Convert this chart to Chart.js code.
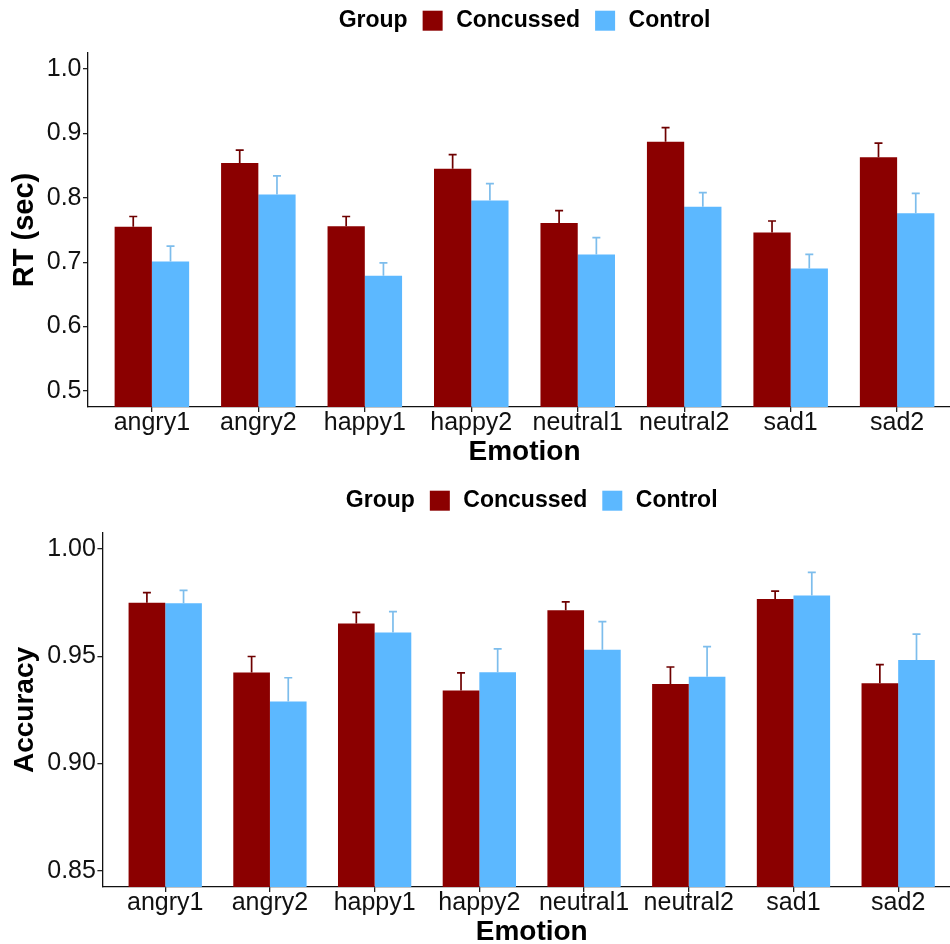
<!DOCTYPE html>
<html>
<head>
<meta charset="utf-8">
<script src="https://cdn.jsdelivr.net/npm/chart.js@4.4.1/dist/chart.umd.min.js"></script>
<style>
  html, body { margin: 0; padding: 0; background: #fff; overflow: hidden; width: 950px; height: 944px; }
  canvas { display: block; }
</style>
</head>
<body>
<canvas id="rtChart" width="962" height="480"></canvas>
<canvas id="accChart" width="962" height="480"></canvas>
<script>
// Conditions on the x axis
const emotions = ['angry1', 'angry2', 'happy1', 'happy2', 'neutral1', 'neutral2', 'sad1', 'sad2'];
const groups = ['Concussed', 'Control'];
const groupColors = ['#8B0000', '#5CB8FF'];
const whiskerColors = ['#6E0000', '#7DBDEC'];

// Reaction time (sec): group means and standard errors
const rtConcussed   = [0.755, 0.854, 0.756, 0.845, 0.761, 0.887, 0.746, 0.863];
const rtConcussedSE = [0.016, 0.020, 0.015, 0.022, 0.019, 0.022, 0.018, 0.022];
const rtControl     = [0.701, 0.805, 0.679, 0.796, 0.712, 0.786, 0.690, 0.776];
const rtControlSE   = [0.024, 0.029, 0.020, 0.026, 0.026, 0.022, 0.022, 0.031];

// Accuracy (proportion correct): group means and standard errors
const accConcussed   = [0.9750, 0.9424, 0.9653, 0.9340, 0.9715, 0.9371, 0.9767, 0.9374];
const accConcussedSE = [0.0047, 0.0075, 0.0052, 0.0083, 0.0039, 0.0079, 0.0037, 0.0087];
const accControl     = [0.9747, 0.9289, 0.9611, 0.9426, 0.9530, 0.9405, 0.9783, 0.9483];
const accControlSE   = [0.0060, 0.0111, 0.0097, 0.0109, 0.0132, 0.0140, 0.0108, 0.0120];

// Value-axis ticks
const rtTicks  = [0.5, 0.6, 0.7, 0.8, 0.9, 1.0];
const accTicks = [0.85, 0.90, 0.95, 1.00];

const FONT = '"Liberation Sans", Arial, Helvetica, sans-serif';
Chart.defaults.font.family = FONT;

// "Group ■ Concussed ■ Control" key, centred over the plotting area
const groupLegend = {
  id: 'groupLegend',
  afterDraw(chart, args, opts) {
    const { ctx, chartArea } = chart;
    const box = 20, textToBox = 15, boxToText = 13.5;
    ctx.save();
    ctx.font = 'bold 23px ' + FONT;
    ctx.textBaseline = 'middle';
    ctx.textAlign = 'left';
    const items = chart.data.datasets.map(d => ({ label: d.label, color: d.backgroundColor }));
    let total = ctx.measureText(opts.title).width;
    items.forEach(it => { total += textToBox + box + boxToText + ctx.measureText(it.label).width; });
    let x = (chartArea.left + chartArea.right) / 2 - total / 2;
    const y = opts.y;
    ctx.fillStyle = '#000';
    ctx.fillText(opts.title, x, y);
    x += ctx.measureText(opts.title).width;
    items.forEach(it => {
      x += textToBox;
      ctx.fillStyle = it.color;
      ctx.fillRect(x, y - box / 2, box, box);
      x += box + boxToText;
      ctx.fillStyle = '#000';
      ctx.fillText(it.label, x, y);
      x += ctx.measureText(it.label).width;
    });
    ctx.restore();
  }
};

// Upper standard-error whiskers on each bar
const whiskers = {
  id: 'whiskers',
  afterDatasetsDraw(chart, args, opts) {
    const { ctx } = chart;
    const yScale = chart.scales.y;
    chart.data.datasets.forEach((ds, i) => {
      const meta = chart.getDatasetMeta(i);
      ctx.save();
      ctx.strokeStyle = opts.colors[i];
      ctx.lineWidth = 1.7;
      meta.data.forEach((bar, j) => {
        const top = yScale.getPixelForValue(ds.data[j].y + opts.se[i][j]);
        ctx.beginPath();
        ctx.moveTo(bar.x, bar.y);
        ctx.lineTo(bar.x, top);
        ctx.moveTo(bar.x - 4, top);
        ctx.lineTo(bar.x + 4, top);
        ctx.stroke();
      });
      ctx.restore();
    });
  }
};

function axisLine() {
  return { display: true, color: '#111', width: 1.3 };
}
function tickMarks() {
  return { display: true, drawOnChartArea: false, drawTicks: true, tickLength: 5, color: '#222', lineWidth: 1.3 };
}

function buildChart(id, cfg) {
  return new Chart(document.getElementById(id), {
    type: 'bar',
    data: {
      datasets: groups.map((g, i) => ({
        label: g,
        data: cfg.means[i].map((v, j) => ({ x: j, y: v })),
        backgroundColor: groupColors[i],
        borderWidth: 0,
        base: cfg.yMin,
        clip: 0,
        categoryPercentage: 0.7,
        barPercentage: 1.0
      }))
    },
    options: {
      responsive: false,
      maintainAspectRatio: false,
      animation: false,
      devicePixelRatio: 1,
      layout: { padding: { top: 53, right: 1, bottom: 0, left: 0 } },
      plugins: {
        legend: { display: false },
        tooltip: { enabled: false },
        groupLegend: { title: 'Group', y: 20.7 },
        whiskers: { se: cfg.se, colors: whiskerColors }
      },
      scales: {
        x: {
          type: 'linear',
          min: -0.6,
          max: emotions.length - 0.4,
          offset: false,
          afterBuildTicks: s => { s.ticks = emotions.map((_, i) => ({ value: i })); },
          afterFit: s => { s.height = 73; },
          ticks: {
            autoSkip: false, maxRotation: 0, padding: -1.5, color: '#111',
            font: { size: 25, lineHeight: 1 },
            callback: v => emotions[v]
          },
          grid: Object.assign(tickMarks(), { offset: false }),
          border: axisLine(),
          title: {
            display: true, text: 'Emotion', color: '#000',
            font: { size: 28, weight: 'bold', lineHeight: 1.2 },
            padding: { top: 0, bottom: 11 }
          }
        },
        y: {
          type: 'linear',
          min: cfg.yMin,
          max: cfg.yMax,
          afterBuildTicks: s => { s.ticks = cfg.ticks.map(v => ({ value: v })); },
          afterFit: s => { s.width = cfg.axisWidth; },
          ticks: {
            padding: 1.5, color: '#111',
            font: { size: 25, lineHeight: 1 },
            callback: v => Number(v).toFixed(cfg.decimals)
          },
          grid: tickMarks(),
          border: axisLine(),
          title: {
            display: true, text: cfg.title, color: '#000',
            font: { size: cfg.titleSize, weight: 'bold', lineHeight: 1.2 },
            padding: { top: 8, bottom: 0 }
          }
        }
      }
    },
    plugins: [groupLegend, whiskers]
  });
}

buildChart('rtChart', {
  title: 'RT (sec)',
  titleSize: 29,
  means: [rtConcussed, rtControl],
  se: [rtConcussedSE, rtControlSE],
  ticks: rtTicks,
  yMin: 0.475,
  yMax: 1.025,
  decimals: 1,
  axisWidth: 88
});

buildChart('accChart', {
  title: 'Accuracy',
  titleSize: 28,
  means: [accConcussed, accControl],
  se: [accConcussedSE, accControlSE],
  ticks: accTicks,
  yMin: 0.8424,
  yMax: 1.0075,
  decimals: 2,
  axisWidth: 102.4
});
</script>
</body>
</html>
